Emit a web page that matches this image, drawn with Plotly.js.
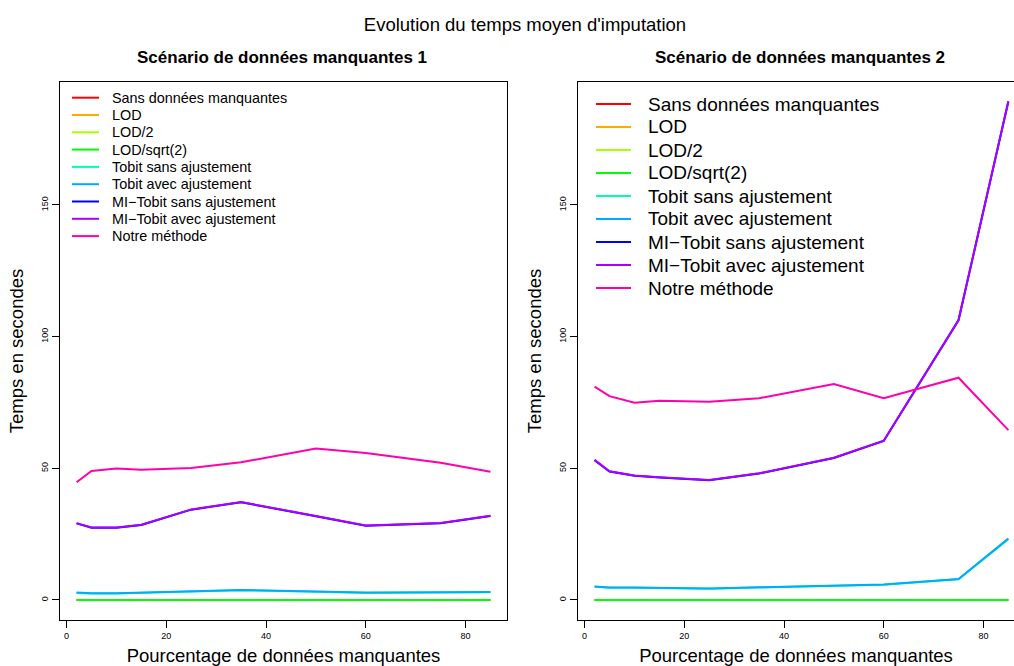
<!DOCTYPE html>
<html><head><meta charset="utf-8">
<script src="https://cdn.plot.ly/plotly-3.0.1.min.js"></script>
<style>html,body{margin:0;padding:0;background:#fff}#chart{width:1014px;height:666px}</style>
</head><body><div id="chart"></div>
<script>
// ---- data ----
const pctMissing = [2, 5, 10, 15, 25, 35, 50, 60, 75, 85];
const methodNames = ['Sans données manquantes', 'LOD', 'LOD/2', 'LOD/sqrt(2)',
  'Tobit sans ajustement', 'Tobit avec ajustement', 'MI\u2212Tobit sans ajustement',
  'MI\u2212Tobit avec ajustement', 'Notre méthode'];
const methodColors = ['#FF0000', '#FFAA00', '#AAFF00', '#00FF00', '#00FFAA', '#00AAFF', '#0000FF', '#AA00FF', '#FF00AA'];
const xTicks = [0, 20, 40, 60, 80];
const yTicks = [0, 50, 100, 150];

// Scenario 1 (seconds)
const s1Sans      = [0.01, 0.01, 0.01, 0.01, 0.01, 0.01, 0.01, 0.01, 0.01, 0.01];
const s1Lod       = [0.02, 0.02, 0.02, 0.02, 0.02, 0.02, 0.02, 0.02, 0.02, 0.02];
const s1Lod2      = [0.02, 0.02, 0.02, 0.02, 0.02, 0.02, 0.02, 0.02, 0.02, 0.02];
const s1LodSqrt2  = [0.02, 0.02, 0.02, 0.02, 0.02, 0.02, 0.02, 0.02, 0.02, 0.02];
const s1TobitSans = [2.7, 2.5, 2.5, 2.7, 3.3, 3.7, 3.1, 2.7, 2.8, 2.9];
const s1TobitAvec = [2.8, 2.6, 2.6, 2.8, 3.4, 3.8, 3.2, 2.8, 2.9, 3.0];
const s1MiSans    = [29.1, 27.4, 27.4, 28.5, 34.3, 37.1, 31.8, 28.2, 29.1, 31.9];
const s1MiAvec    = [29.2, 27.5, 27.5, 28.6, 34.4, 37.2, 31.9, 28.3, 29.2, 32.0];
const s1Notre     = [44.7, 49.0, 49.9, 49.5, 50.1, 52.3, 57.5, 55.8, 52.1, 48.7];

// Scenario 2 (seconds)
const s2Sans      = [0.01, 0.01, 0.01, 0.01, 0.01, 0.01, 0.01, 0.01, 0.01, 0.01];
const s2Lod       = [0.02, 0.02, 0.02, 0.02, 0.02, 0.02, 0.02, 0.02, 0.02, 0.02];
const s2Lod2      = [0.02, 0.02, 0.02, 0.02, 0.02, 0.02, 0.02, 0.02, 0.02, 0.02];
const s2LodSqrt2  = [0.02, 0.02, 0.02, 0.02, 0.02, 0.02, 0.02, 0.02, 0.02, 0.02];
const s2TobitSans = [5.0, 4.6, 4.6, 4.5, 4.3, 4.7, 5.2, 5.8, 7.9, 23.2];
const s2TobitAvec = [5.1, 4.7, 4.7, 4.6, 4.4, 4.8, 5.3, 5.9, 8.0, 23.3];
const s2MiSans    = [53.1, 48.8, 47.2, 46.5, 45.5, 48.0, 53.9, 60.4, 106.2, 189.3];
const s2MiAvec    = [53.2, 48.9, 47.3, 46.6, 45.6, 48.1, 54.0, 60.5, 106.3, 189.4];
const s2Notre     = [81.0, 77.4, 74.9, 75.7, 75.3, 76.6, 82.0, 76.6, 84.4, 64.5];

const scen1 = [s1Sans, s1Lod, s1Lod2, s1LodSqrt2, s1TobitSans, s1TobitAvec, s1MiSans, s1MiAvec, s1Notre];
const scen2 = [s2Sans, s2Lod, s2Lod2, s2LodSqrt2, s2TobitSans, s2TobitAvec, s2MiSans, s2MiAvec, s2Notre];

// ---- build ----
const FONT = 'Liberation Sans, Arial, Helvetica, sans-serif';
const W = 1014, H = 666;
const traces = [];
scen1.forEach((ys, i) => traces.push({x: pctMissing, y: ys, type: 'scatter', mode: 'lines', name: methodNames[i],
  line: {color: methodColors[i], width: 2}, xaxis: 'x', yaxis: 'y', showlegend: false}));
scen2.forEach((ys, i) => traces.push({x: pctMissing, y: ys, type: 'scatter', mode: 'lines', name: methodNames[i],
  line: {color: methodColors[i], width: 2}, xaxis: 'x2', yaxis: 'y2', showlegend: false}));

const axBase = {showline: true, linecolor: '#000', linewidth: 1, ticks: 'outside', ticklen: 7, tickcolor: '#000',
  tickfont: {family: FONT, size: 9, color: '#000'}, showgrid: false, zeroline: false};

const yDom = [1 - 620 / H, 1 - 82 / H];
const layout = {
  width: W, height: H, margin: {l: 0, r: 0, t: 0, b: 0}, paper_bgcolor: '#fff', plot_bgcolor: '#fff',
  font: {family: FONT, color: '#000'},
  title: {text: "Evolution du temps moyen d'imputation", x: 525 / W, xanchor: 'center', y: 1 - 25 / H, yanchor: 'middle',
    font: {family: FONT, size: 18.5, color: '#000'}},
  xaxis: Object.assign({}, axBase, {domain: [60 / W, 507 / W], range: [-1.32, 88.32], tickvals: xTicks, mirror: true, anchor: 'y',
    title: {text: 'Pourcentage de données manquantes', font: {family: FONT, size: 18.5}, standoff: 9}}),
  yaxis: Object.assign({}, axBase, {domain: yDom, range: [-7.6, 196.7], tickvals: yTicks, tickangle: -90, mirror: true, anchor: 'x',
    title: {text: 'Temps en secondes', font: {family: FONT, size: 18.5}, standoff: 11}}),
  xaxis2: Object.assign({}, axBase, {domain: [578 / W, 1], range: [-1.32, 86.13], tickvals: xTicks, mirror: true, anchor: 'y2',
    title: {text: 'Pourcentage de données manquantes', font: {family: FONT, size: 18.5}, standoff: 9}}),
  yaxis2: Object.assign({}, axBase, {domain: yDom, range: [-7.6, 196.7], tickvals: yTicks, tickangle: -90, mirror: false, anchor: 'x2',
    title: {text: 'Temps en secondes', font: {family: FONT, size: 18.5}, standoff: 11}}),
  annotations: [], shapes: []
};
layout.annotations.push({text: '<b>Scénario de données manquantes 1</b>', xref: 'paper', yref: 'paper', x: 282 / W, y: 1 - 57 / H,
  xanchor: 'center', yanchor: 'middle', showarrow: false, font: {family: FONT, size: 17, color: '#000'}});
layout.annotations.push({text: '<b>Scénario de données manquantes 2</b>', xref: 'paper', yref: 'paper', x: 800 / W, y: 1 - 57 / H,
  xanchor: 'center', yanchor: 'middle', showarrow: false, font: {family: FONT, size: 17, color: '#000'}});

// legends (R-style, inside each panel)
function addLegend(x0, x1, xt, yStart, step, fsize) {
  methodNames.forEach((nm, i) => {
    const yy = 1 - (yStart + step * i) / H;
    layout.shapes.push({type: 'line', xref: 'paper', yref: 'paper', x0: x0 / W, x1: x1 / W, y0: yy, y1: yy,
      line: {color: methodColors[i], width: 2}});
    layout.annotations.push({text: nm, xref: 'paper', yref: 'paper', x: xt / W, y: yy, xanchor: 'left', yanchor: 'middle',
      showarrow: false, font: {family: FONT, size: fsize, color: '#000'}});
  });
}
addLegend(72, 99, 110, 97.7, 17.3, 14.4);
addLegend(596, 631, 646, 104, 23.0, 19);

Plotly.newPlot('chart', traces, layout, {displayModeBar: false, staticPlot: true});
</script>
</body></html>
